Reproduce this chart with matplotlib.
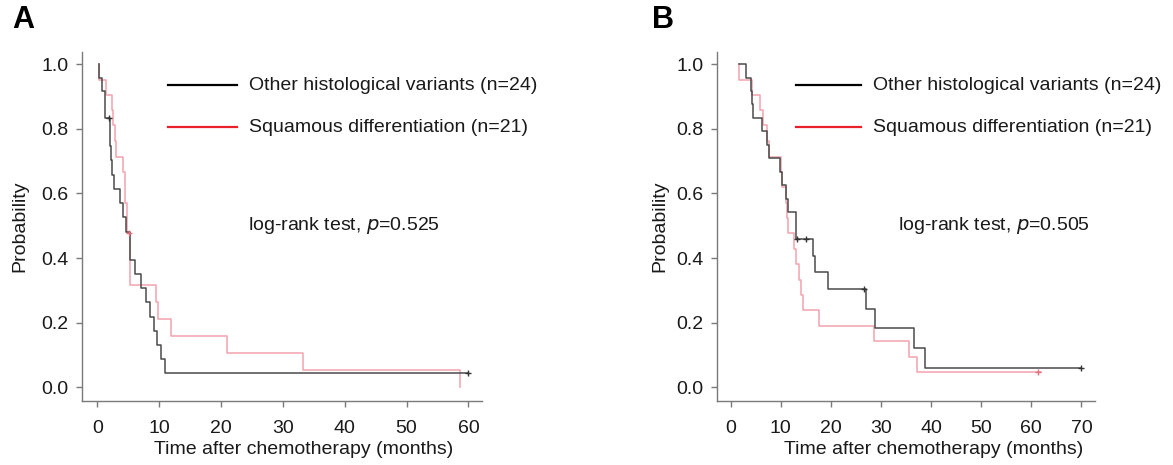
import matplotlib
matplotlib.use("Agg")
import matplotlib.pyplot as plt

plt.rcParams['font.family'] = ['Liberation Sans', 'DejaVu Sans']

# panel A (time in months, survival probability)
a_other_t = [0.28, 0.28, 0.7, 1.25, 1.95, 2.1, 2.25, 2.4, 2.6, 3.7, 4.2, 4.6, 5.2, 6.1,
             7.07, 7.8, 8.5, 9.1, 9.7, 10.3, 10.95, 60.0]
a_other_s = [1.0, 0.958, 0.917, 0.833, 0.789, 0.746, 0.702, 0.658, 0.614, 0.570, 0.526,
             0.482, 0.395, 0.351, 0.307, 0.263, 0.219, 0.175, 0.132, 0.088, 0.044, 0.044]
a_other_cens_t = [1.8, 60.0]
a_other_cens_s = [0.833, 0.044]

a_squam_t = [0.28, 0.28, 1.4, 2.3, 2.5, 2.8, 3.0, 4.2, 4.5, 4.75, 5.3, 9.5, 9.8, 11.9,
             20.9, 33.3, 58.6]
a_squam_s = [1.0, 0.952, 0.905, 0.857, 0.810, 0.762, 0.714, 0.667, 0.571, 0.476, 0.317,
             0.264, 0.212, 0.159, 0.106, 0.053, 0.0]
a_squam_cens_t = [5.1]
a_squam_cens_s = [0.476]

# panel B
b_other_t = [1.66, 3.05, 4.05, 4.3, 4.5, 6.3, 7.2, 7.7, 9.84, 10.3, 11.0, 11.4, 13.0,
             16.5, 16.8, 19.4, 26.9, 28.8, 36.5, 38.8, 70.0]
b_other_s = [1.0, 0.958, 0.917, 0.875, 0.833, 0.792, 0.750, 0.708, 0.667, 0.625, 0.583,
             0.542, 0.458, 0.407, 0.356, 0.305, 0.244, 0.183, 0.122, 0.061, 0.061]
b_other_cens_t = [13.3, 15.0, 26.6, 70.0]
b_other_cens_s = [0.458, 0.458, 0.305, 0.061]

b_squam_t = [1.66, 1.66, 4.3, 5.85, 6.5, 7.2, 7.7, 10.0, 10.3, 11.0, 11.2, 11.4, 12.6,
             13.1, 13.6, 14.0, 14.5, 17.6, 28.5, 35.6, 37.1, 61.9]
b_squam_s = [1.0, 0.952, 0.905, 0.857, 0.810, 0.762, 0.714, 0.667, 0.619, 0.571, 0.524,
             0.476, 0.429, 0.381, 0.333, 0.286, 0.238, 0.190, 0.143, 0.095, 0.048, 0.048]
b_squam_cens_t = [61.3]
b_squam_cens_s = [0.048]

other_label = "Other histological variants (n=24)"
squam_label = "Squamous differentiation (n=21)"
pvals = ["0.525", "0.505"]
xticks_a = [0, 10, 20, 30, 40, 50, 60]
xticks_b = [0, 10, 20, 30, 40, 50, 60, 70]
yticks = [0.0, 0.2, 0.4, 0.6, 0.8, 1.0]

BLACK_LINE = '#4a4a4a'
RED_LINE = '#f4a3ad'
SPINE = '#7a7a7a'
TXT = '#1a1a1a'
FS = 14

fig = plt.figure(figsize=(11.73, 4.65), dpi=100)
axA = fig.add_axes([0.0699, 0.1376, 0.341, 0.7505])
axB = fig.add_axes([0.611, 0.1376, 0.3225, 0.7505])


def draw_panel(ax, other, squam, xticks, xlim, pval, leg_x, p_x, xlab_x, ylab_x):
    ot, os_, oct_, ocs = other
    st, ss, sct, scs = squam
    ax.step(st, ss, where='post', color=RED_LINE, lw=1.1, zorder=2)
    ax.step(ot, os_, where='post', color=BLACK_LINE, lw=1.1, zorder=3)
    ax.plot(sct, scs, '+', color='#e07080', ms=5, mew=1.0, zorder=4)
    ax.plot(oct_, ocs, '+', color='#333333', ms=5, mew=1.0, zorder=4)

    ax.set_xlim(*xlim)
    ax.set_ylim(-0.042, 1.037)
    ax.set_xticks(xticks)
    ax.set_yticks(yticks)
    ax.set_yticklabels(['%.1f' % v for v in yticks])
    for s in ['top', 'right']:
        ax.spines[s].set_visible(False)
    for s in ['left', 'bottom']:
        ax.spines[s].set_color(SPINE)
        ax.spines[s].set_linewidth(1.0)
    ax.tick_params(direction='out', length=4.5, width=1.0, color=SPINE,
                   labelsize=FS, labelcolor=TXT)
    ax.tick_params(axis='x', pad=9)
    ax.tick_params(axis='y', pad=5)
    ax.set_ylabel('Probability', fontsize=FS, color=TXT)
    ax.yaxis.set_label_coords(ylab_x, 0.5)
    ax.set_xlabel('Time after chemotherapy (months)', fontsize=FS, color=TXT)
    ax.xaxis.set_label_coords(xlab_x, -0.115)

    # legend drawn by hand
    ax.plot([leg_x, leg_x + 0.172], [0.905, 0.905], color='black', lw=1.6,
            transform=ax.transAxes, clip_on=False)
    ax.plot([leg_x, leg_x + 0.172], [0.785, 0.785], color='#e8202a', lw=1.6,
            transform=ax.transAxes, clip_on=False)
    ax.text(leg_x + 0.203, 0.905, other_label, transform=ax.transAxes,
            fontsize=FS, color=TXT, va='center', ha='left')
    ax.text(leg_x + 0.203, 0.785, squam_label, transform=ax.transAxes,
            fontsize=FS, color=TXT, va='center', ha='left')
    ax.text(p_x, 0.504, 'log-rank test, $\\it{p}$=' + pval, transform=ax.transAxes,
            fontsize=FS, color=TXT, va='center', ha='left')


draw_panel(axA, (a_other_t, a_other_s, a_other_cens_t, a_other_cens_s),
           (a_squam_t, a_squam_s, a_squam_cens_t, a_squam_cens_s),
           xticks_a, (-2.5, 62.2), pvals[0], 0.215, 0.415, 0.553, -0.135)
draw_panel(axB, (b_other_t, b_other_s, b_other_cens_t, b_other_cens_s),
           (b_squam_t, b_squam_s, b_squam_cens_t, b_squam_cens_s),
           xticks_b, (-2.8, 72.7), pvals[1], 0.21, 0.479, 0.574, -0.129)

fig.text(0.0102, 0.957, 'A', fontsize=22, fontweight='bold', color='black', va='center')
fig.text(0.5555, 0.957, 'B', fontsize=22, fontweight='bold', color='black', va='center')

fig.savefig('out.png', dpi=100)
